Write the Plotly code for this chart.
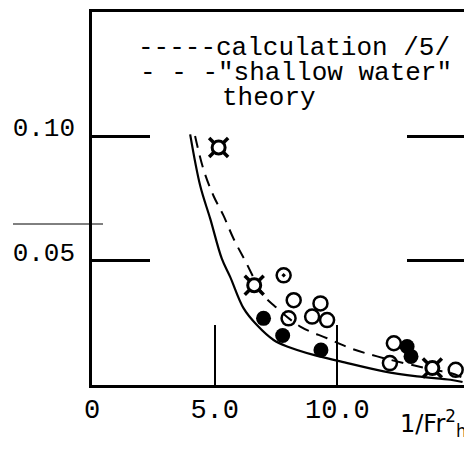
import plotly.graph_objects as go

# ---- data ----
calc_x = [4.0, 4.41, 4.82, 5.29, 5.63, 6.18, 6.72, 7.40, 7.95, 9.03, 10.12, 11.89, 13.25, 14.61, 15.1]
calc_y = [0.1008, 0.0801, 0.0668, 0.0508, 0.0435, 0.0308, 0.0241, 0.0181, 0.0155, 0.0121, 0.0095, 0.0055, 0.0035, 0.0021, 0.0012]

shallow_x = [4.2, 4.54, 4.95, 5.36, 5.77, 6.24, 6.99, 7.47, 8.49, 9.58, 10.53, 11.62, 13.92, 14.61, 15.14]
shallow_y = [0.1001, 0.0868, 0.0761, 0.0681, 0.0588, 0.050, 0.0361, 0.0315, 0.0235, 0.0188, 0.0148, 0.0115, 0.0061, 0.0048, 0.0028]

open_x = [7.81, 8.22, 8.01, 9.31, 8.97, 9.58, 12.3, 12.14, 14.82]
open_y = [0.0441, 0.0341, 0.0268, 0.0328, 0.0275, 0.0261, 0.0168, 0.0088, 0.0061]
open_sym = ["circle-open-dot", "circle-open", "circle-open", "circle-open", "circle-open",
            "circle-open", "circle-open", "circle-open", "circle-open"]

filled_x = [6.99, 7.77, 9.33, 12.84, 13.0]
filled_y = [0.0268, 0.0199, 0.0141, 0.0155, 0.0115]

cross_x = [5.16, 6.61, 13.87]
cross_y = [0.0955, 0.0401, 0.0068]

x_ticks = [0, 5, 10]
x_tick_text = ["0", "5.0", "10.0"]
y_ticks = [0.05, 0.10]
y_tick_text = ["0.05", "0.10"]

legend_line1 = "-----calculation /5/"
legend_line2 = '- - -"shallow water"'
legend_line3 = "theory"
x_title = "1/Fr<sup>2</sup><sub>h</sub>"

fig = go.Figure()
fig.add_trace(go.Scatter(x=calc_x, y=calc_y, mode="lines", line=dict(color="black", width=2.2, shape="spline"),
                         name="calculation /5/"))
fig.add_trace(go.Scatter(x=shallow_x, y=shallow_y, mode="lines",
                         line=dict(color="black", width=2, dash="12px,8px", shape="spline"),
                         name='"shallow water" theory'))
fig.add_trace(go.Scatter(x=cross_x, y=cross_y, mode="markers",
                         marker=dict(symbol="x-thin-open", size=19, color="black", line=dict(width=3.5, color="black"))))
fig.add_trace(go.Scatter(x=cross_x, y=cross_y, mode="markers",
                         marker=dict(symbol="circle", size=13, color="white", line=dict(width=3, color="black"))))
fig.add_trace(go.Scatter(x=open_x, y=open_y, mode="markers",
                         marker=dict(symbol=open_sym, size=14, color="black", line=dict(width=2.5, color="black"))))
fig.add_trace(go.Scatter(x=filled_x, y=filled_y, mode="markers",
                         marker=dict(symbol="circle", size=15, color="black")))

mono = "Liberation Mono"
# page body has an 8px margin, so margins are offset by 8px
fig.update_layout(
    width=472, height=450,
    margin=dict(l=84, r=15, t=4, b=73, autoexpand=False),
    paper_bgcolor="white", plot_bgcolor="white",
    showlegend=False,
    font=dict(family=mono, color="black"),
    xaxis=dict(range=[0, 15.2], tickvals=x_ticks, ticktext=x_tick_text, ticks="inside", ticklen=60,
               tickwidth=2, tickcolor="black", showline=True, linecolor="black", linewidth=2.5,
               mirror=True, showgrid=False, zeroline=False, tickfont=dict(size=27, family=mono),
               ticklabelstandoff=-2, automargin=False),
    yaxis=dict(range=[0, 0.15], tickvals=y_ticks, ticktext=y_tick_text, ticks="inside", ticklen=58,
               tickwidth=2.5, tickcolor="black", showline=True, linecolor="black", linewidth=2.5,
               mirror="ticks", showgrid=False, zeroline=False, tickfont=dict(size=26, family=mono),
               ticklabelshift=-9, ticklabelstandoff=9, automargin=False),
)

def px2paper(px, py):
    return (px - 92) / 373.0, (385 - py) / 373.0

for txt, (px, py) in [(legend_line1, (136, 48)), (legend_line2, (138, 73)), (legend_line3, (220, 98))]:
    ax, ay = px2paper(px, py)
    fig.add_annotation(text=txt, xref="paper", yref="paper", x=ax, y=ay, xanchor="left", yanchor="middle",
                       showarrow=False, font=dict(family=mono, size=26, color="black"))

tx, ty = px2paper(398, 423)
fig.add_annotation(text=x_title, xref="paper", yref="paper", x=tx, y=ty, xanchor="left", yanchor="middle",
                   showarrow=False, font=dict(family="DejaVu Sans", size=24, color="black"))

# stray thin scan line left of the axis
x0, y0 = px2paper(13, 224)
x1, _ = px2paper(103, 224)
fig.add_shape(type="line", xref="paper", yref="paper", x0=x0, x1=x1, y0=y0, y1=y0,
              line=dict(color="black", width=1))

fig.write_html("out.html")
